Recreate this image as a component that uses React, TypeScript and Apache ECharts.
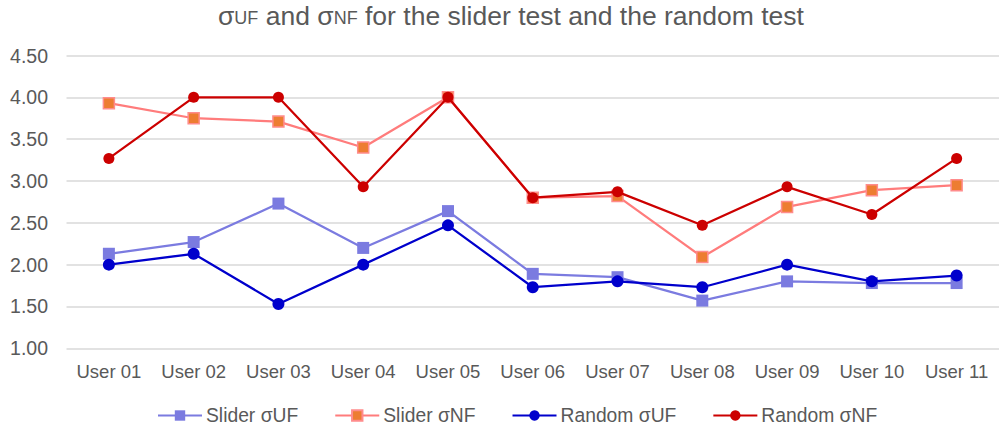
import React, { useEffect, useRef } from "react";
import * as echarts from "echarts";

const categories = ["User 01", "User 02", "User 03", "User 04", "User 05", "User 06", "User 07", "User 08", "User 09", "User 10", "User 11"];
const sliderUF = [2.13, 2.27, 2.73, 2.2, 2.64, 1.89, 1.85, 1.57, 1.8, 1.78, 1.78];
const sliderNF = [3.93, 3.75, 3.71, 3.4, 4.0, 2.8, 2.82, 2.09, 2.69, 2.89, 2.95];
const randomUF = [2.0, 2.13, 1.53, 2.0, 2.47, 1.73, 1.8, 1.73, 2.0, 1.8, 1.87];
const randomNF = [3.27, 4.0, 4.0, 2.93, 4.0, 2.8, 2.87, 2.47, 2.93, 2.6, 3.27];
const seriesNames = ["Slider σUF", "Slider σNF", "Random σUF", "Random σNF"];

export default function App() {
  const ref = useRef<HTMLDivElement>(null);
  useEffect(() => {
    if (!ref.current) return;
    const chart = echarts.init(ref.current, null, { renderer: "svg" });
    const font = "'Liberation Sans', Arial, sans-serif";
    chart.setOption({
      animation: false,
      textStyle: { fontFamily: font },
      title: {
        text: "{a|σ}{b|UF}{a| and σ}{b|NF}{a| for the slider test and the random test}",
        left: 213,
        top: -3,
        textStyle: {
          fontWeight: "normal",
          rich: {
            a: { fontSize: 26.5, color: "#595959", fontFamily: font, fontWeight: "normal" },
            b: { fontSize: 18, color: "#595959", fontFamily: font, fontWeight: "normal", padding: [5, 0, 0, 0] },
          },
        },
      },
      legend: {
        top: 401,
        left: 152,
        itemWidth: 44,
        itemHeight: 13,
        itemGap: 36,
        textStyle: { fontSize: 19.3, color: "#595959", fontFamily: font, padding: [0, 0, 0, -1] },
        data: seriesNames,
      },
      grid: { left: 66.5, right: -8.5, top: 55.5, bottom: 83.7, containLabel: false },
      xAxis: {
        type: "category",
        data: categories,
        axisLine: { show: false },
        axisTick: { show: false },
        axisLabel: { fontSize: 18.5, color: "#595959", margin: 14, interval: 0 },
      },
      yAxis: {
        type: "value",
        min: 1,
        max: 4.5,
        interval: 0.5,
        axisLabel: { fontSize: 19.5, color: "#595959", formatter: (v: number) => v.toFixed(2), margin: 18.5 },
        splitLine: { lineStyle: { color: "#D9D9D9", width: 1.5 } },
        axisLine: { show: false },
        axisTick: { show: false },
      },
      series: [
        {
          name: seriesNames[0],
          type: "line",
          data: sliderUF,
          symbol: "rect",
          symbolSize: 12,
          lineStyle: { color: "#7B7BE0", width: 2.25 },
          itemStyle: { color: "#7B7BE0", borderColor: "#7B7BE0", borderWidth: 0 },
          z: 2,
        },
        {
          name: seriesNames[1],
          type: "line",
          data: sliderNF,
          symbol: "rect",
          symbolSize: 11,
          lineStyle: { color: "#FF7C7C", width: 2.25 },
          itemStyle: { color: "#ED7D31", borderColor: "#FF8C8C", borderWidth: 1.5 },
          z: 2,
        },
        {
          name: seriesNames[2],
          type: "line",
          data: randomUF,
          symbol: "circle",
          symbolSize: 12,
          lineStyle: { color: "#0000CC", width: 2.25 },
          itemStyle: { color: "#0000CC", borderWidth: 0 },
          z: 3,
        },
        {
          name: seriesNames[3],
          type: "line",
          data: randomNF,
          symbol: "circle",
          symbolSize: 11,
          lineStyle: { color: "#CC0000", width: 2.25 },
          itemStyle: { color: "#CC0000", borderWidth: 0 },
          z: 3,
        },
      ],
    });
    return () => chart.dispose();
  }, []);
  return <div ref={ref} style={{ width: 999, height: 432, position: "absolute", left: 0, top: 0 }} />;
}
